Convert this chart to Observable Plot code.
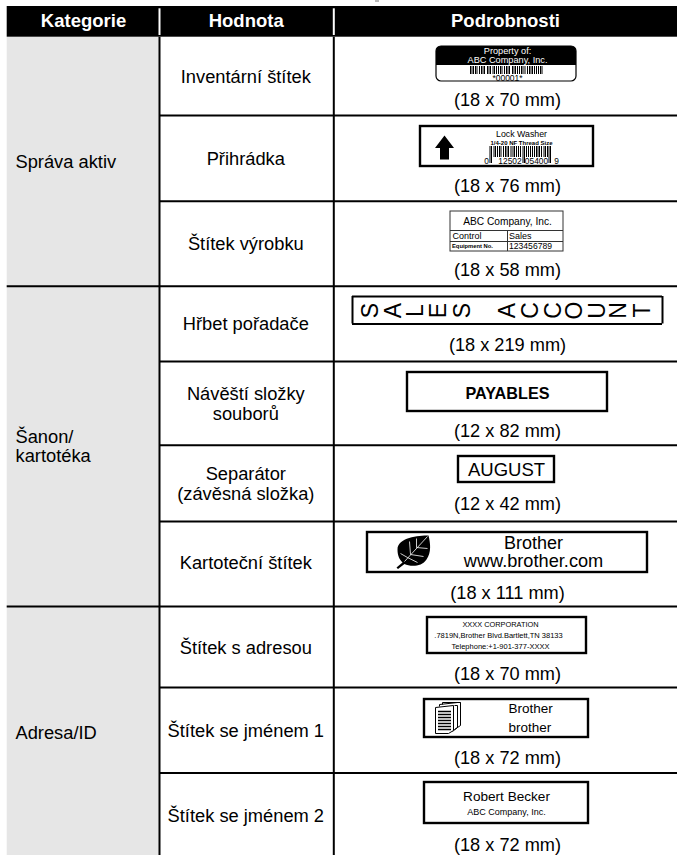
<!DOCTYPE html>
<html><head><meta charset="utf-8">
<script src="https://cdn.jsdelivr.net/npm/d3@7"></script>
<script src="https://cdn.jsdelivr.net/npm/@observablehq/plot@0.6"></script>
<style>html,body{margin:0;padding:0;background:#fff}svg{display:block}</style>
</head><body><div id="chart"></div>
<script>
const FONT = "'Liberation Sans', Arial, sans-serif";

// texts
const headers = ["Kategorie", "Hodnota", "Podrobnosti"];
const categories = ["Správa aktiv", "Šanon/\nkartotéka", "Adresa/ID"];
const values = ["Inventární štítek", "Přihrádka", "Štítek výrobku", "Hřbet pořadače", "Návěští složky\nsouborů", "Separátor\n(závěsná složka)", "Kartoteční štítek", "Štítek s adresou", "Štítek se jménem 1", "Štítek se jménem 2"];
const sizes = ["(18 x 70 mm)", "(18 x 76 mm)", "(18 x 58 mm)", "(18 x 219 mm)", "(12 x 82 mm)", "(12 x 42 mm)", "(18 x 111 mm)", "(18 x 70 mm)", "(18 x 72 mm)", "(18 x 72 mm)"];
const spineLetters = ["S","A","L","E","S","A","C","C","O","U","N","T"];

// table grid (page pixels are the table's units)
const columnEdges = [6.7, 159, 333.3, 677];
const headerBand = [6, 36.7];
const tableBottom = 855;
const groupLines = [285.7, 606];
const rowLines = [115, 200.7, 361, 444.7, 521, 687, 772.5];
const headerX = [83, 245.7, 505];
const headerTextY = 20.5;
const categoryY = [161, 446, 732];
const valueY = [76.5, 158, 243, 323, 403.5, 483, 562.5, 647, 730.5, 815.5];
const sizeY = [100, 186, 270, 345, 431, 504, 593, 674, 758, 845];
const valueX = 245.3, sizeX = 507, categoryX = 15;

// label outlines: left, right, top, bottom
const boxes = [
  [407, 607, 372, 411], [458, 554, 456, 482],
  [367, 647, 532, 572], [427, 586, 617, 653], [424, 588, 699, 737], [424, 588, 782, 823]
];
const spineLines = [296, 323.5];
const spineX = [352, 662];
const spineLetterX = [370, 393, 415, 438, 462, 507, 530, 553, 574, 597, 618, 642];

// barcodes: bar positions
const barcodeA = [470,471.5,473,475,476.5,479,481,482.5,484,487,488.5,490,492.5,494,496,498,500,501.5,504,506,507.5,509,512,513.5,515,517,519,521,522.5,524.5,527,529,530.5,532,534,536,538,540,541.5];
const barcodeB = [493.5,495,497,499,500.5,503,505,506.5,508,510.5,512.5,514,516,518,520,526,528,530,532,534,536,537.5,539,541,543.5,545,547];
const guardBars = [489.5, 491, 522.5, 524, 548.5, 550];

const smallTexts = [
  ["Lock Washer", 521, 134, 8.8, "normal", "middle", "#000"],
  ["1/4-20 NF Thread Size", 521, 142.3, 6, "bold", "middle", "#000"],
  ["0", 486, 161, 8.4, "normal", "middle", "#000"],
  ["12502", 509.5, 161, 8.4, "normal", "middle", "#000"],
  ["05400", 536, 161, 8.4, "normal", "middle", "#000"],
  ["9", 556, 161, 8.4, "normal", "middle", "#000"],
  ["Property of:", 507, 51, 9.2, "normal", "middle", "#fff"],
  ["ABC Company, Inc.", 507, 60, 9.2, "normal", "middle", "#fff"],
  ["*00001*", 507, 77.5, 8.5, "normal", "middle", "#000"],
  ["ABC Company, Inc.", 507, 221, 10.2, "normal", "middle", "#000"],
  ["Control", 452, 236, 9, "normal", "start", "#000"],
  ["Sales", 508.5, 236, 9, "normal", "start", "#000"],
  ["Equipment No.", 451.5, 246, 5.8, "bold", "start", "#000"],
  ["123456789", 508.5, 246, 8.6, "normal", "start", "#000"],
  ["Brother", 533, 542.3, 18, "normal", "middle", "#000"],
  ["www.brother.com", 533, 561, 18.2, "normal", "middle", "#000"],
  ["XXXX CORPORATION", 500, 624, 7.4, "normal", "middle", "#000"],
  [".7819N,Brother Blvd.Bartlett,TN 38133", 498, 635, 7.5, "normal", "middle", "#000"],
  ["Telephone:+1-901-377-XXXX", 500, 646, 7.5, "normal", "middle", "#000"],
  ["Brother", 508, 708, 13.5, "normal", "start", "#000"],
  ["brother", 508, 727, 13.5, "normal", "start", "#000"],
  ["Robert Becker", 506, 796, 13.6, "normal", "middle", "#000"],
  ["ABC Company, Inc.", 506, 812, 9, "normal", "middle", "#000"],
  ["PAYABLES", 507, 393, 16.2, "bold", "middle", "#000"],
  ["AUGUST", 506, 469.5, 18.5, "normal", "middle", "#000"]
];

// icon outlines
const arrowIcon = {draw(c) {
  c.moveTo(0,-12); c.lineTo(9.5,0.5); c.lineTo(4.5,0.5); c.lineTo(4.5,12); c.lineTo(-4.5,12); c.lineTo(-4.5,0.5); c.lineTo(-9.5,0.5); c.closePath();
}};
const leafIcon = {draw(c) {
  c.moveTo(15,-16); c.bezierCurveTo(5,-16,-16,-14,-16,-2); c.bezierCurveTo(-16,4,-14,8,-11,11);
  c.lineTo(-17,16); c.lineTo(-15.5,17.5); c.lineTo(-9,12.5); c.bezierCurveTo(-4,15,8,16,13,8); c.bezierCurveTo(18,1,17,-8,15,-16); c.closePath();
}};
const leafVeins = {draw(c) {
  c.moveTo(-9,10); c.lineTo(14,-15);
  c.moveTo(-3,3); c.lineTo(-4,-10); c.moveTo(3,-4); c.lineTo(3,-13);
  c.moveTo(-3,3); c.lineTo(10,5); c.moveTo(3,-4); c.lineTo(14,-3);
  c.moveTo(-6,6); c.lineTo(-13,2); c.moveTo(-6,6); c.lineTo(4,11);
}};
const pagesBack = {draw(c) {
  c.moveTo(-8,-11); c.lineTo(-8,-13); c.lineTo(10,-15); c.lineTo(13,-15); c.lineTo(13,8); c.lineTo(7,12);
  c.moveTo(-5,-13); c.lineTo(-5,-15); c.lineTo(13,-15);
  c.moveTo(7,-12); c.lineTo(10,-12); c.lineTo(10,10); c.lineTo(5,14);
}};
const pagesFront = {draw(c) {
  c.moveTo(-12,-10); c.lineTo(6,-12); c.lineTo(6,13); c.lineTo(1,16); c.lineTo(-12,16); c.closePath();
}};
const pagesLines = {draw(c) {
  for (const y of [-6,-3,0,3,6,9,12]) { c.moveTo(-9.5,y); c.lineTo(3.5,y); }
}};

const at = (x, y) => [{x, y}];
const styleKeys = [...new Set(smallTexts.map((d) => [d[3], d[4], d[5], d[6]].join("|")))];

const plot = Plot.plot({
  width: 677, height: 855, margin: 0,
  x: {axis: null, domain: [0, 677], range: [0, 677]},
  y: {axis: null, domain: [0, 855], range: [0, 855]},
  style: {fontFamily: FONT, background: "#fff"},
  marks: [
    // trace of the cut-off line above the table
    Plot.ruleY([0.5], {y: (d) => d, x1: 375, x2: 379, stroke: "#777", strokeWidth: 1}),
    // grey category column, header band
    Plot.rect([0], {x1: columnEdges[0], x2: columnEdges[1], y1: headerBand[1], y2: tableBottom, fill: "#e6e6e6"}),
    Plot.rect([0], {x1: columnEdges[0], x2: columnEdges[3], y1: headerBand[0], y2: headerBand[1], fill: "#000"}),
    Plot.ruleX(columnEdges.slice(1, 3), {x: (d) => d, y1: headerBand[0] + 2.3, y2: headerBand[1] - 1.7, stroke: "#fff", strokeWidth: 2}),
    // grid
    Plot.ruleX(columnEdges.slice(1, 3), {x: (d) => d, y1: headerBand[1], y2: tableBottom, stroke: "#000", strokeWidth: 2}),
    Plot.ruleY(rowLines, {y: (d) => d, x1: columnEdges[1], x2: columnEdges[3], stroke: "#000", strokeWidth: 2}),
    Plot.ruleY(groupLines, {y: (d) => d, x1: columnEdges[0], x2: columnEdges[3], stroke: "#000", strokeWidth: 2}),
    // table texts
    Plot.text(headers, {x: (d, i) => headerX[i], y: headerTextY, text: (d) => d, fill: "#fff", fontSize: 18.5, fontWeight: "bold", textAnchor: "middle", lineAnchor: "middle"}),
    Plot.text(categories, {x: categoryX, y: (d, i) => categoryY[i], text: (d) => d, fontSize: 18.3, textAnchor: "start", lineAnchor: "middle", lineHeight: 1.05, fill: "#000"}),
    Plot.text(values, {x: valueX, y: (d, i) => valueY[i], text: (d) => d, fontSize: 18.3, textAnchor: "middle", lineAnchor: "middle", lineHeight: 1.07, fill: "#000"}),
    Plot.text(sizes, {x: sizeX, y: (d, i) => sizeY[i], text: (d) => d, fontSize: 18.2, textAnchor: "middle", lineAnchor: "middle", fill: "#000"}),
    // plain label outlines
    Plot.rect(boxes, {x1: (d) => d[0], x2: (d) => d[1], y1: (d) => d[2], y2: (d) => d[3], stroke: "#000", strokeWidth: 2.4, fill: "#fff"}),
    // asset label with rounded corners
    Plot.rect([0], {x1: 436, x2: 576, y1: 46, y2: 81, rx: 5, fill: "#fff", stroke: "#000", strokeWidth: 1.2}),
    Plot.rect([0], {x1: 436, x2: 576, y1: 46, y2: 60, rx: 5, fill: "#000"}),
    Plot.rect([0], {x1: 436, x2: 576, y1: 52, y2: 65, fill: "#000"}),
    Plot.ruleX(barcodeA, {x: (d) => d, y1: 66, y2: 74, stroke: "#000", strokeWidth: 1}),
    // product label
    Plot.rect([0], {x1: 450, x2: 563, y1: 211, y2: 251, fill: "#fff", stroke: "#333", strokeWidth: 1}),
    Plot.ruleY([230, 241], {y: (d) => d, x1: 450, x2: 563, stroke: "#333", strokeWidth: 1}),
    Plot.ruleX([507], {x: (d) => d, y1: 230, y2: 251, stroke: "#333", strokeWidth: 1}),
    // shelf label
    Plot.rect([0], {x1: 420, x2: 593, y1: 126, y2: 166, stroke: "#000", strokeWidth: 2.4, fill: "#fff"}),
    Plot.ruleX(barcodeB, {x: (d) => d, y1: 146, y2: 157, stroke: "#000", strokeWidth: 1}),
    Plot.ruleX(guardBars, {x: (d) => d, y1: 146, y2: 163, stroke: "#000", strokeWidth: 1}),
    Plot.dot(at(444, 147), {x: "x", y: "y", r: 1, symbol: arrowIcon, fill: "#000", stroke: "none"}),
    // spine label
    Plot.ruleY(spineLines, {y: (d) => d, x1: spineX[0], x2: spineX[1], stroke: "#000", strokeWidth: 2}),
    Plot.ruleX(spineX, {x: (d) => d, y1: spineLines[0], y2: spineLines[1], stroke: "#000", strokeWidth: 2}),
    Plot.text(spineLetters, {x: (d, i) => spineLetterX[i], y: 310, text: (d) => d, rotate: -90, fontSize: 23, textAnchor: "middle", lineAnchor: "middle", fill: "#000"}),
    // icons
    Plot.dot(at(413, 551), {x: "x", y: "y", r: 1, symbol: leafIcon, fill: "#000", stroke: "none"}),
    Plot.dot(at(413, 551), {x: "x", y: "y", r: 1, symbol: leafVeins, fill: "none", stroke: "#fff", strokeWidth: 0.8}),
    Plot.dot(at(447, 717), {x: "x", y: "y", r: 1, symbol: pagesBack, fill: "none", stroke: "#000", strokeWidth: 1}),
    Plot.dot(at(447, 717), {x: "x", y: "y", r: 1, symbol: pagesFront, fill: "#fff", stroke: "#000", strokeWidth: 1}),
    Plot.dot(at(447, 717), {x: "x", y: "y", r: 1, symbol: pagesLines, fill: "none", stroke: "#000", strokeWidth: 1.4}),
    // small label texts, one mark per text style
    ...styleKeys.map((k) => {
      const [size, weight, anchor, color] = k.split("|");
      return Plot.text(smallTexts.filter((d) => [d[3], d[4], d[5], d[6]].join("|") === k), {
        x: (d) => d[1], y: (d) => d[2], text: (d) => d[0], lineAnchor: "middle",
        fontSize: +size, fontWeight: weight, textAnchor: anchor, fill: color
      });
    })
  ]
});
document.getElementById("chart").appendChild(plot);
</script></body></html>
